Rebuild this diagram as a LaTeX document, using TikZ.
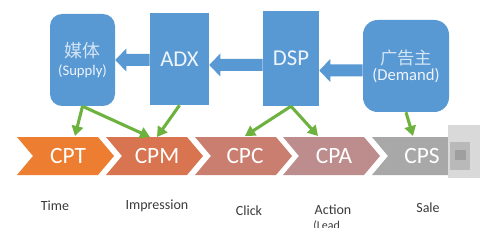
\documentclass[tikz,border=0pt]{standalone}
\usepackage{fontspec}
\setmainfont{Carlito}
\newfontfamily\cjk{Noto Sans CJK SC}
\usetikzlibrary{arrows.meta,calc}
\definecolor{boxblue}{HTML}{5899D4}
\definecolor{boxtext}{HTML}{EEF4FB}
\definecolor{cjktext}{HTML}{D3E4F5}
\definecolor{arrowgreen}{HTML}{6DB23F}
\definecolor{cptcol}{HTML}{ED7D31}
\definecolor{cpmcol}{HTML}{D8744F}
\definecolor{cpccol}{HTML}{C97E70}
\definecolor{cpacol}{HTML}{BD8C8C}
\definecolor{cpscol}{HTML}{A8A8A8}
\definecolor{labelgrey}{HTML}{3A3A3A}
\newcommand\chevshape[2]{\fill[#2] (#1,137) -- ({#1+81},137) -- ({#1+97},156) -- ({#1+81},175) -- (#1,175) -- ({#1+16},156) -- cycle;}
% block arrow: from anchor, to anchor, vertical offset of tip
\newcommand\blockarr[3]{\fill[boxblue] let \p1=(#1), \p2=($(#2)+(0pt,#3)$) in
  (\x1,\y2+4.5pt) -- (\x2+8.25pt,\y2+4.5pt) -- (\x2+8.25pt,\y2+8.6pt) -- (\x2,\y2)
  -- (\x2+8.25pt,\y2-8.6pt) -- (\x2+8.25pt,\y2-4.5pt) -- (\x1,\y2-4.5pt) -- cycle;}
\begin{document}
\begin{tikzpicture}[x=0.75pt,y=-0.75pt,
  sqbox/.style={fill=boxblue, inner sep=0pt, text=boxtext, align=center},
  rbox/.style={sqbox, rounded corners=9pt},
  gline/.style={draw=arrowgreen, line width=2.3pt, -{Triangle[length=7.5pt,width=8.5pt]}},
  chevtext/.style={text=white, font=\fontsize{17.5}{20}\selectfont, inner sep=0pt},
  lbl/.style={text=labelgrey, font=\fontsize{10.5}{12}\selectfont, inner sep=0pt}]
\useasboundingbox (0,0) rectangle (500,228);
\fill[white] (0,0) rectangle (500,228);

% boxes
\node[rbox, minimum width=48.75pt, minimum height=69pt] (media) at (82.5,60)
  {{\cjk\color{cjktext}\fontsize{13.5}{15}\selectfont 媒体}\\[1pt]{\fontsize{11}{13}\selectfont (Supply)}};
\node[sqbox, minimum width=44.25pt, minimum height=69pt, font=\fontsize{17}{20}\selectfont] (adx) at (179.5,59) {ADX};
\node[sqbox, minimum width=42pt, minimum height=71.25pt, font=\fontsize{17}{20}\selectfont] (dsp) at (291,58.5) {DSP};
\node[rbox, rounded corners=11pt, minimum width=64.5pt, minimum height=69pt] (adv) at (406,66)
  {{\cjk\color{cjktext}\fontsize{13}{15}\selectfont 广告主}\\[0pt]{\fontsize{12.5}{14}\selectfont (Demand)}};

% block arrows
\blockarr{adx.west}{media.east}{0pt}
\blockarr{dsp.west}{adx.east}{-4.5pt}
\blockarr{adv.west}{dsp.east}{-9pt}

% chevrons
\chevshape{17}{cptcol}
\chevshape{106}{cpmcol}
\chevshape{195}{cpccol}
\chevshape{283}{cpacol}
\chevshape{372}{cpscol}
% masked patch at the right
\fill[gray!30] (448,125) rectangle (480,178);
\fill[gray!55] (450,142) rectangle (470,170);
\fill[gray!75] (455,150) rectangle (466,160);

\node[chevtext] (cpt) at (68,156) {CPT};
\node[chevtext] (cpm) at (157,156) {CPM};
\node[chevtext] (cpc) at (245,156) {CPC};
\node[chevtext] (cpa) at (334,156) {CPA};
\node[chevtext] (cps) at (422,156) {CPS};

% arrow targets on the chevrons
\coordinate (tcpt) at (75,136);
\coordinate (tcpm1) at (150,137);
\coordinate (tcpm2) at (157,137);
\coordinate (tcpc) at (245,136);
\coordinate (tcpa) at (318,136);
\coordinate (tcps) at (413,136);

\draw[gline] (media.south) -- (tcpt);
\draw[gline] (media.south) -- (tcpm1);
\draw[gline] (adx.south) -- (tcpm2);
\draw[gline] (dsp.south) -- (tcpc);
\draw[gline] (dsp.south) -- (tcpa);
\draw[gline] (adv.south) -- (tcps);

% labels
\node[lbl] (ltime) at (55,206) {Time};
\node[lbl] (limp) at (157,206) {Impression};
\node[lbl] (lclick) at (249,211) {Click};
\node[lbl] (laction) at (333,210) {Action};
\node[lbl, anchor=north west, font=\fontsize{9}{10}\selectfont] (llead) at (313,220) {(Lead};
\node[lbl] (lsale) at (428,208) {Sale};
\end{tikzpicture}
\end{document}
